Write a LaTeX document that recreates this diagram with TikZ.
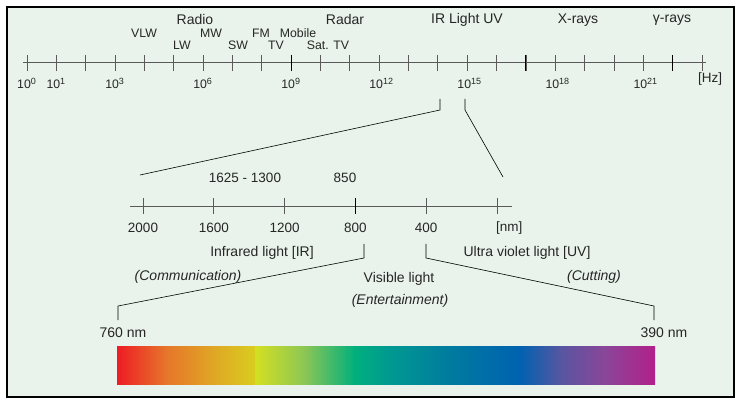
\documentclass[tikz,border=0pt]{standalone}
\usepackage{fontspec}
\setmainfont{Liberation Sans}
\usetikzlibrary{positioning,calc}

\definecolor{panelbg}{HTML}{E9F3EB}
\definecolor{axisgray}{HTML}{5A5A5A}
\definecolor{txtc}{HTML}{262626}
\definecolor{sRed}{HTML}{ED1C24}
\definecolor{sOrange}{HTML}{E6752A}
\definecolor{sAmber}{HTML}{E0A425}
\definecolor{sYellow}{HTML}{D9CD1F}
\definecolor{sLime}{HTML}{D3E021}
\definecolor{sLeaf}{HTML}{8CC655}
\definecolor{sGreen}{HTML}{00B07C}
\definecolor{sTeal}{HTML}{009B90}
\definecolor{sPetrol}{HTML}{0079A0}
\definecolor{sBlue}{HTML}{0062B0}
\definecolor{sIndigo}{HTML}{5955A0}
\definecolor{sViolet}{HTML}{8A4699}
\definecolor{sMagenta}{HTML}{B1208A}

\newcommand{\tenpow}[1]{10\raisebox{4pt}{\fontsize{9}{9}\selectfont #1}}

\begin{document}
\begin{tikzpicture}[x=1pt,y=-1pt,
  lbl/.style={inner sep=0pt,text=txtc,font=\fontsize{14}{16}\selectfont},
  num/.style={inner sep=0pt,text=txtc,font=\fontsize{13.5}{15}\selectfont},
  sml/.style={inner sep=0pt,text=txtc,font=\fontsize{12.3}{14}\selectfont},
  itl/.style={lbl,font=\fontsize{14}{16}\selectfont\itshape},
  tk/.style={axisgray,line width=0.9pt},
  tkb/.style={black,line width=1pt},
  zoomline/.style={black,line width=0.6pt}]
  \useasboundingbox (0,0) rectangle (739,406);
  \fill[white] (0,0) rectangle (739,406);
  \draw[fill=panelbg,line width=1.3pt] (7,7) rectangle (734,397);

  % 周波数軸
  \def\fx{27}\def\fstep{29.35}
  \draw[axisgray,line width=1pt] (23,63) -- (706,63);
  \foreach \i in {0,...,23} \draw[tk] (\fx+\i*\fstep,55) -- (\fx+\i*\fstep,71);
  \foreach \i in {9,17,22} \draw[tkb] (\fx+\i*\fstep,55) -- (\fx+\i*\fstep,71);
  \foreach \e in {0,1,3,6,9,12,15,18,21}
    \node[sml,anchor=west] (e\e) at (\fx+\e*\fstep-10,83) {\tenpow{\e}};
  \node[num] (hz) at (710,79) {[Hz]};

  % 帯域名
  \node[lbl] (radio) at (195,19) {Radio};
  \node[lbl] (radar) at (345,19) {Radar};
  \node[lbl] (irluv) at (467,20) {IR Light UV};
  \node[lbl] (xray) at (578,20) {X-rays};
  \node[lbl] (gamma) at (672,20) {γ-rays};
  \node[sml] (vlw) at (144,33) {VLW};
  \node[sml] (mw) at (211,33) {MW};
  \node[sml] (fm) at (261,33) {FM};
  \node[sml] (mobile) at (298,33) {Mobile};
  \node[sml] (lw) at (182,45) {LW};
  \node[sml] (sw) at (238,45) {SW};
  \node[sml] (tv) at (276,45) {TV};
  \node[sml] (sattv) at (328,45) {Sat. TV};

  % 拡大の線 (上)
  \coordinate (zA) at (440,99); \coordinate (zB) at (440,110); \coordinate (zC) at (140,175);
  \coordinate (zD) at (465,99); \coordinate (zE) at (465,110); \coordinate (zF) at (503,177);
  \draw[zoomline] (zA) -- (zB) -- (zC);
  \draw[zoomline] (zD) -- (zE) -- (zF);

  % 波長軸 [nm]
  \def\wx{143}\def\wstep{70.8}
  \draw[axisgray,line width=1pt] (130,207) -- (512,207);
  \foreach \i in {0,...,5} \draw[tk] (\wx+\i*\wstep,198) -- (\wx+\i*\wstep,214);
  \draw[tkb] (\wx+3*\wstep,198) -- (\wx+3*\wstep,214);
  \foreach \v [count=\k from 0] in {2000,1600,1200,800,400}
    \node[num] (w\v) at (\wx+\k*\wstep,228) {\v};
  \node[num,anchor=west] (nm) at (496,228) {[nm]};
  \node[num] (band) at (245,178) {1625 - 1300};
  \node[num] (n850) at (345,178) {850};

  % 領域名
  \node[lbl] (ir) at (262,253) {Infrared light [IR]};
  \node[lbl] (uv) at (527,253) {Ultra violet light [UV]};
  \node[itl] (comm) at (188,277) {(Communication)};
  \node[lbl] (vis) at (399,279) {Visible light};
  \node[itl] (ent) at (400,301) {(Entertainment)};
  \node[itl] (cut) at (594,277) {(Cutting)};

  % 拡大の線 (下)
  \coordinate (vA) at (364,244); \coordinate (vB) at (364,258);
  \coordinate (vC) at (118,306); \coordinate (vD) at (118,320);
  \coordinate (uA) at (426,244); \coordinate (uB) at (426,258);
  \coordinate (uC) at (654,306); \coordinate (uD) at (654,320);
  \draw[zoomline] (vA) -- (vB) -- (vC) -- (vD);
  \draw[zoomline] (uA) -- (uB) -- (uC) -- (uD);
  \node[lbl] (l760) at (123,333) {760 nm};
  \node[lbl] (l390) at (664,333) {390 nm};

  % スペクトル
  \shade[left color=sRed,right color=sOrange] (117,346) rectangle (166,384);
  \shade[left color=sOrange,right color=sAmber] (165.5,346) rectangle (211,384);
  \shade[left color=sAmber,right color=sYellow] (210.5,346) rectangle (255,384);
  \shade[left color=sLime,right color=sLeaf] (255,346) rectangle (305,384);
  \shade[left color=sLeaf,right color=sGreen] (304.5,346) rectangle (355,384);
  \shade[left color=sGreen,right color=sTeal] (354.5,346) rectangle (386,384);
  \shade[left color=sTeal,right color=sPetrol] (385.5,346) rectangle (455,384);
  \shade[left color=sPetrol,right color=sBlue] (454.5,346) rectangle (520,384);
  \shade[left color=sBlue,right color=sIndigo] (519.5,346) rectangle (562,384);
  \shade[left color=sIndigo,right color=sViolet] (561.5,346) rectangle (605,384);
  \shade[left color=sViolet,right color=sMagenta] (604.5,346) rectangle (655,384);
\end{tikzpicture}
\end{document}
